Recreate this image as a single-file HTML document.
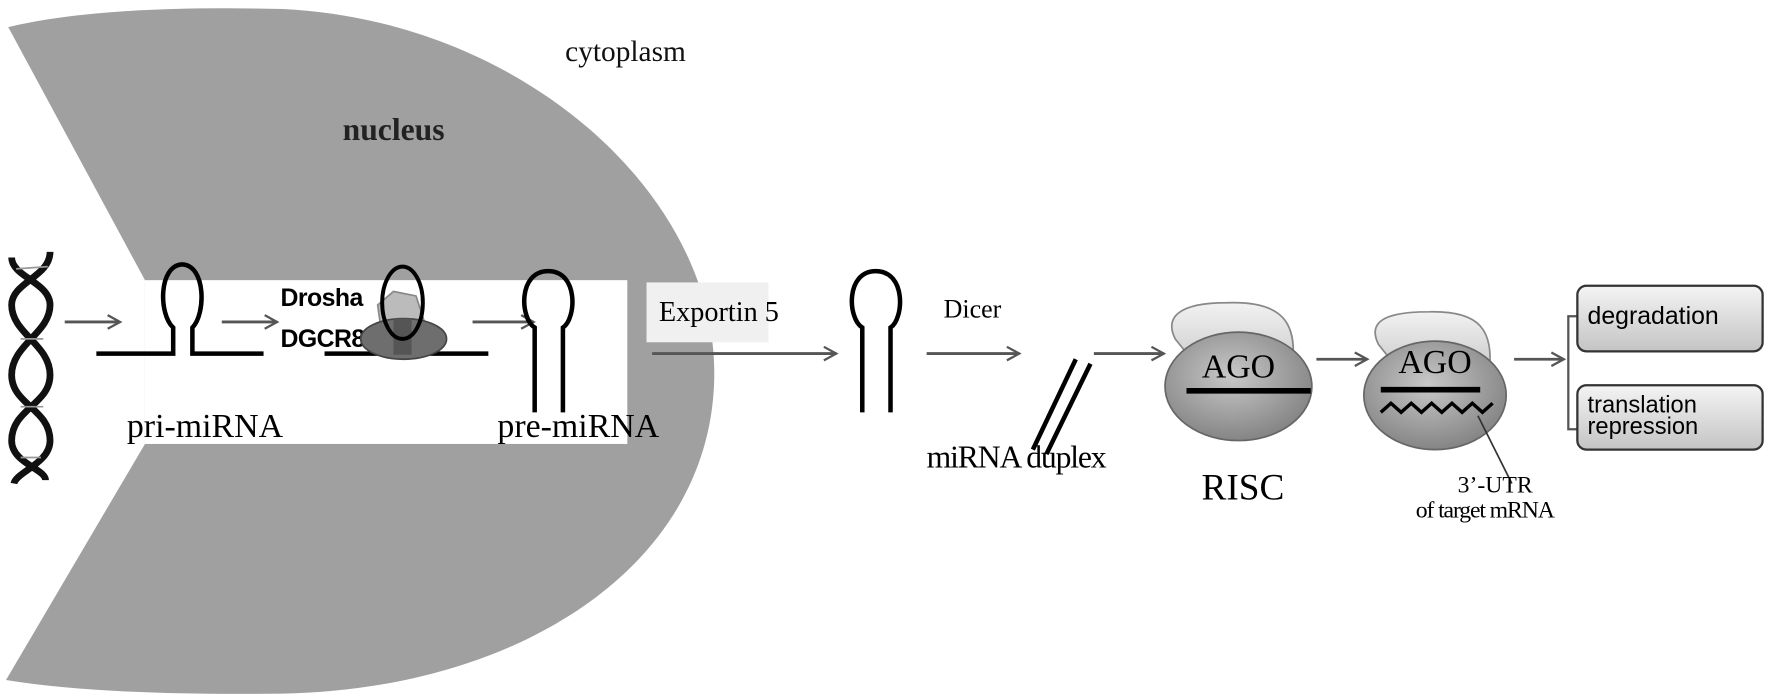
<!DOCTYPE html>
<html><head><meta charset="utf-8"><style>html,body{margin:0;padding:0;background:#fff}svg{display:block}</style></head>
<body>
<svg width="1772" height="697" viewBox="0 0 1568 617" xmlns="http://www.w3.org/2000/svg">
<defs>
<radialGradient id="ago" cx="0.45" cy="0.4" r="0.7"><stop offset="0" stop-color="#c8c8c8"/><stop offset="1" stop-color="#7a7a7a"/></radialGradient>
<linearGradient id="cap" x1="0" y1="0" x2="0" y2="1"><stop offset="0" stop-color="#f2f2f2"/><stop offset="1" stop-color="#c8c8c8"/></linearGradient>
<linearGradient id="box" x1="0" y1="0" x2="0" y2="1"><stop offset="0" stop-color="#f4f4f4"/><stop offset="1" stop-color="#c4c4c4"/></linearGradient>
<marker id="ar" markerWidth="14" markerHeight="14" refX="12" refY="7" orient="auto" markerUnits="userSpaceOnUse"><path d="M1,1 L12,7 L1,13" fill="none" stroke="#555" stroke-width="2"/></marker>
</defs>
<path d="M7,24 Q90,4 250,8 C460,18 632,170 632,330 C632,500 460,610 250,614 Q90,616 5,602 L128,393 L128,248 Z" fill="#a0a0a0"/>
<rect x="128" y="248" width="427" height="145" fill="#fff"/>
<text x="500" y="54" font-family="Liberation Serif" font-size="26" fill="#111">cytoplasm</text>
<text x="303" y="124" font-family="Liberation Serif" font-size="28" font-weight="bold" fill="#222">nucleus</text>
<g fill="none" stroke="#111" stroke-width="6">
<path d="M44,223 C44,245 10,250 10,270 C10,295 44,305 44,332 C44,358 10,362 10,390 C10,410 40,415 40,425"/>
<path d="M10,228 C10,245 44,250 44,270 C44,295 10,305 10,332 C10,358 44,362 44,390 C44,410 14,418 12,428"/>
</g>
<g stroke="#999" stroke-width="1.5"><line x1="14" y1="238" x2="42" y2="236"/><line x1="18" y1="300" x2="38" y2="300"/><line x1="18" y1="360" x2="38" y2="360"/><line x1="18" y1="405" x2="36" y2="405"/></g>
<g stroke="#555" stroke-width="2.5" fill="none" marker-end="url(#ar)">
<line x1="57" y1="285" x2="106" y2="285"/>
<line x1="196" y1="285" x2="245" y2="285"/>
<line x1="418" y1="285" x2="472" y2="285"/>
<line x1="577" y1="313" x2="740" y2="313"/>
<line x1="820" y1="313" x2="902" y2="313"/>
<line x1="968" y1="313" x2="1030" y2="313"/>
<line x1="1165" y1="318" x2="1210" y2="318"/>
<line x1="1340" y1="318" x2="1384" y2="318"/>
</g>
<g fill="none" stroke="#000" stroke-width="4">
<path d="M85,313 H153 V290 C140,278 140,235 161,234 C182,235 182,278 170,290 V313 H233"/>
<path d="M287,313 H432"/>
</g>
<text x="112" y="387" font-family="Liberation Serif" font-size="30">pri-miRNA</text>
<text x="248" y="271" font-family="Liberation Sans" font-weight="bold" font-size="22" letter-spacing="-0.5">Drosha</text>
<text x="248" y="307" font-family="Liberation Sans" font-weight="bold" font-size="22" letter-spacing="-0.5">DGCR8</text>
<path d="M334,270 L348,258 L368,262 L377,290 L360,300 L338,298 Z" fill="#bbb" stroke="#888" stroke-width="1.5"/>
<ellipse cx="357" cy="300" rx="38" ry="18" fill="#6e6e6e" stroke="#444" stroke-width="1.5"/>
<rect x="348" y="282" width="16" height="32" fill="#555"/>
<ellipse cx="356" cy="268" rx="18" ry="32" fill="none" stroke="#000" stroke-width="3.5"/>
<path d="M473,365 V290 C460,282 458,240 485,240 C512,240 510,282 498,290 V365" fill="none" stroke="#000" stroke-width="4"/>
<text x="440" y="387" font-family="Liberation Serif" font-size="30">pre-miRNA</text>
<rect x="572" y="250" width="108" height="53" fill="#f0f0f0"/>
<text x="583" y="284" font-family="Liberation Serif" font-size="25">Exportin 5</text>
<path d="M763,365 V290 C750,282 748,240 775,240 C802,240 800,282 788,290 V365" fill="none" stroke="#000" stroke-width="4"/>
<text x="835" y="281" font-family="Liberation Serif" font-size="23">Dicer</text>
<g stroke="#000" stroke-width="4"><line x1="914" y1="398" x2="952" y2="318"/><line x1="926" y1="402" x2="965" y2="322"/></g>
<text x="820" y="414" font-family="Liberation Serif" font-size="28" letter-spacing="-1">miRNA duplex</text>
<path d="M1040,300 C1030,280 1045,268 1085,268 C1135,266 1150,285 1143,330 L1060,325 Z" fill="url(#cap)" stroke="#888" stroke-width="1.5"/>
<ellipse cx="1096" cy="342" rx="65" ry="48" fill="url(#ago)" stroke="#666" stroke-width="1.5"/>
<text x="1096" y="334" text-anchor="middle" font-family="Liberation Serif" font-size="30">AGO</text>
<line x1="1050" y1="346" x2="1160" y2="346" stroke="#000" stroke-width="5"/>
<text x="1100" y="442" text-anchor="middle" font-family="Liberation Serif" font-size="33">RISC</text>
<path d="M1220,305 C1210,285 1225,276 1265,276 C1310,275 1322,292 1318,330 L1240,330 Z" fill="url(#cap)" stroke="#888" stroke-width="1.5"/>
<ellipse cx="1270" cy="350" rx="63" ry="48" fill="url(#ago)" stroke="#666" stroke-width="1.5"/>
<text x="1270" y="330" text-anchor="middle" font-family="Liberation Serif" font-size="30">AGO</text>
<line x1="1222" y1="345" x2="1310" y2="345" stroke="#000" stroke-width="5"/>
<path d="M1222,365 l9,-8 9,8 9,-8 9,8 9,-8 9,8 9,-8 9,8 9,-8 9,8 9,-8" fill="none" stroke="#000" stroke-width="3"/>
<line x1="1308" y1="368" x2="1338" y2="428" stroke="#333" stroke-width="1.5"/>
<text x="1290" y="436" font-family="Liberation Serif" font-size="21">3’-UTR</text>
<text x="1253" y="458" font-family="Liberation Serif" font-size="21" letter-spacing="-1">of target mRNA</text>
<path d="M1396,280 H1388 V380 H1396" fill="none" stroke="#555" stroke-width="2"/>
<rect x="1396" y="253" width="164" height="58" rx="8" fill="url(#box)" stroke="#333" stroke-width="2"/>
<text x="1405" y="287" font-family="Liberation Sans" font-size="22">degradation</text>
<rect x="1396" y="341" width="164" height="57" rx="8" fill="url(#box)" stroke="#333" stroke-width="2"/>
<text x="1405" y="365" font-family="Liberation Sans" font-size="21">translation</text>
<text x="1405" y="384" font-family="Liberation Sans" font-size="21">repression</text>
</svg>
</body></html>
